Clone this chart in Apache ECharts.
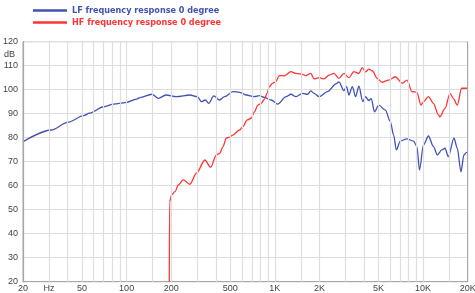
<!DOCTYPE html>
<html><head><meta charset="utf-8">
<script src="https://cdn.jsdelivr.net/npm/echarts@6/dist/echarts.min.js"></script>
<style>html,body{margin:0;padding:0;background:#fff}#c{width:475px;height:293px}</style>
</head><body><div id="c"></div>
<script>
const lfFreq = [20,31,40,51.5,56,70,82,98,117,123,148,164,184,217,267,300,320,340,358,387,424,458,522,578,641,728,787,850,943,1046,1189,1284,1387,1538,1662,1748,1840,1988,2264,2600,2706,2924,3048,3160,3330,3505,3690,3920,4090,4300,4470,4700,5020,5570,6010,6330,6600,7020,7790,8620,9090,9460,10060,10870,11740,12490,13370,14060,14800,16160,17010,18010,18860,19660,20000];
const lfDb   = [78.3,83.2,86.4,89.2,90.2,92.9,94.0,94.6,96.1,96.7,98.1,96.4,97.8,97.1,97.8,97.1,95.0,95.7,94.3,97.4,95.7,97.1,99.2,98.9,97.8,97.1,97.5,96.8,95.7,94.0,97.1,98.1,97.1,98.5,98.1,99.5,98.5,97.1,99.2,102.5,103.3,99.6,101.3,97.8,101.3,97.1,101.5,95.0,97.1,95.5,96.3,90.8,93.6,91.5,86.7,81.1,74.9,78.6,79.5,78.6,76.3,66.5,77.0,80.7,76.3,72.8,74.9,75.6,72.1,79.8,75.6,65.8,72.8,73.9,73.9];
const hfFreq = [194,195,201,212,223,241,267,296,337,369,403,424,447,470,495,520,578,609,651,692,728,768,808,850,886,918,968,1010,1072,1158,1284,1387,1538,1618,1748,1840,1988,2148,2320,2506,2706,2924,3160,3410,3690,3890,4090,4300,4560,4900,5290,5860,6500,7210,7790,8410,9090,9670,10060,10870,11740,12690,13000,14060,15200,15980,17010,18200,19660,20000];
const hfDb   = [20,53.3,56.1,57.5,60.3,62.4,60.6,65.2,70.7,67.7,72.8,73.5,76.3,79.8,80.2,81.1,83.2,84.6,87.4,88.1,90.8,93.6,94.3,96.0,98.5,101.3,102.7,103.3,105.9,105.8,107.5,106.8,106.4,105.8,106.8,104.5,105.0,104.5,106.1,106.8,104.7,106.8,105.0,107.5,106.8,109.2,107.4,108.6,107.8,104.7,103.1,104.0,105.4,102.7,104.0,99.2,98.9,93.6,95.0,97.1,94.3,89.5,88.7,92.2,98.5,96.4,93.6,100.6,100.6,100.9];
const gridFreqs = [20,30,40,50,60,70,80,90,100,150,200,300,400,500,600,700,800,900,1000,1500,2000,3000,4000,5000,6000,7000,8000,9000,10000,15000,20000];
const tickFreqs = [20,30,50,100,200,500,1000,2000,5000,10000,20000];
const tickLabels = ['20','Hz','50','100','200','500','1K','2K','5K','10K','20K'];
const seriesNames = ['LF frequency response 0 degree','HF frequency response 0 degree'];

const blue = '#4152b0', red = '#ff3434';
const chart = echarts.init(document.getElementById('c'), null, {renderer:'canvas'});
const zip = (a,b) => a.map((v,i)=>[v,b[i]]);
const gridLines = gridFreqs.map(f => {
  const i = tickFreqs.indexOf(f);
  const item = {xAxis: f};
  if (f === 20 || f === 20000) item.lineStyle = {color:'#a8a8a8', width:1};
  if (i >= 0) item.label = {show:true, position:'start', formatter: tickLabels[i], distance: 2,
    color:'#444', fontSize: 9, fontFamily:'Liberation Sans'};
  return item;
});
chart.setOption({
  animation:false,
  grid:{left:20.5, right:7.3, top:41.7, bottom:11.3, show:true, borderColor:'#a8a8a8', borderWidth:1},
  legend:{orient:'vertical', left:28, top:1, itemWidth:34, itemHeight:2.5, icon:'rect', itemGap:3,
    textStyle:{fontFamily:'"DejaVu Sans Condensed", sans-serif', fontWeight:'bold', fontSize:9},
    data:[{name:seriesNames[0], textStyle:{color:blue}},{name:seriesNames[1], textStyle:{color:red}}]},
  xAxis:{type:'log', min:20, max:20000, logBase:10,
    axisLine:{show:true, lineStyle:{color:'#a8a8a8'}}, axisTick:{show:false}, axisLabel:{show:false}, splitLine:{show:false}},
  yAxis:{type:'value', min:20, max:120, interval:10,
    axisLine:{show:true, lineStyle:{color:'#999', width:1.2}}, axisTick:{show:false},
    axisLabel:{color:'#444', fontSize:9, margin:5, fontFamily:'Liberation Sans'},
    splitLine:{lineStyle:{color:'#dedede', width:1.2}}},
  graphic:[{type:'text', left:4, top:50, style:{text:'dB', fill:'#444', font:'9px Liberation Sans'}}],
  series:[
    {type:'line', name:'_grid', data:[], z:1, silent:true, showSymbol:false,
      markLine:{silent:true, symbol:['none','none'], animation:false,
        lineStyle:{color:'#dedede', width:1.2, type:'solid'}, label:{show:false},
        data: gridLines}},
    {type:'line', name:seriesNames[0], data:zip(lfFreq,lfDb), showSymbol:false, smooth:0.3, smoothMonotone:'x', z:3,
      lineStyle:{color:blue, width:1.3}, itemStyle:{color:blue}},
    {type:'line', name:seriesNames[1], data:zip(hfFreq,hfDb), showSymbol:false, smooth:0.3, smoothMonotone:'x', z:4,
      lineStyle:{color:red, width:1.3}, itemStyle:{color:red}}
  ]
});
</script></body></html>
